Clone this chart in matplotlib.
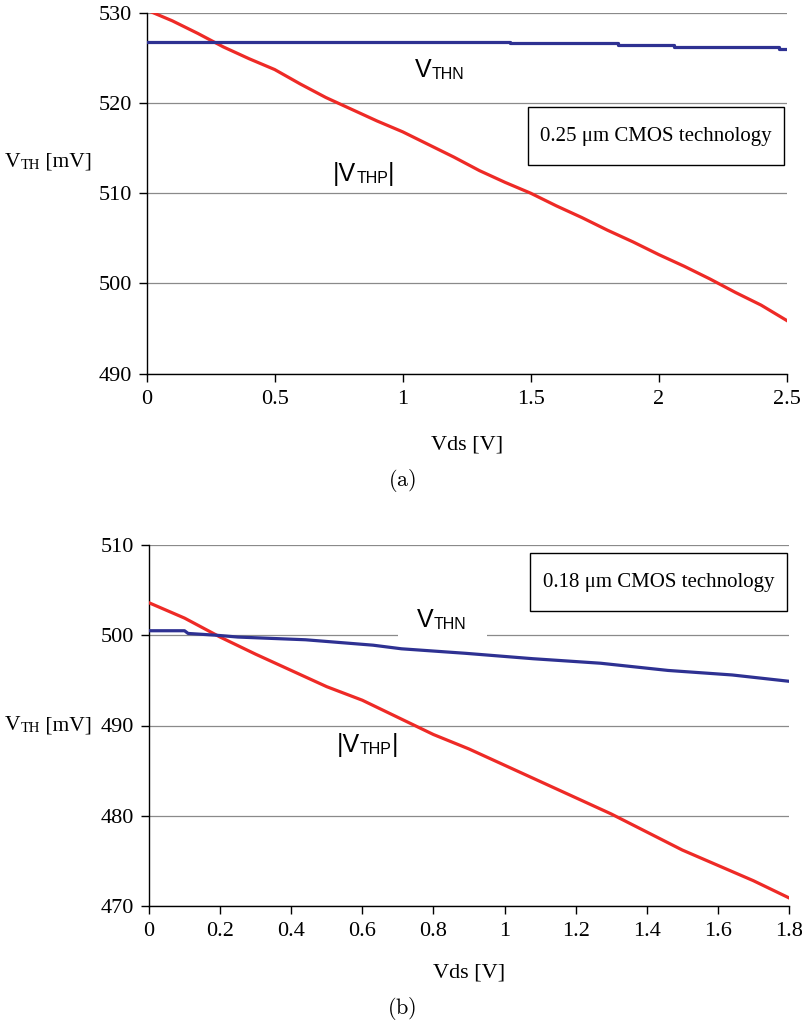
import matplotlib
matplotlib.use("Agg")
import matplotlib.pyplot as plt
import matplotlib.patches as patches

# ---- data ----
# (a) 0.25 um technology
vds_a = [0, 0.1, 0.2, 0.3, 0.4, 0.5, 0.6, 0.7, 0.8, 0.9, 1.0, 1.1, 1.2, 1.3,
         1.4, 1.5, 1.6, 1.7, 1.8, 1.9, 2.0, 2.1, 2.2, 2.3, 2.4, 2.5]
vthp_a = [530.3, 529.1, 527.7, 526.2, 524.9, 523.7, 522.1, 520.6, 519.3, 518.0,
          516.8, 515.4, 514.0, 512.5, 511.2, 510.0, 508.6, 507.3, 505.9, 504.6,
          503.2, 501.9, 500.5, 499.0, 497.6, 495.9]
vthn_a_x = [0, 0.92, 1.42, 1.84, 2.06, 2.47, 2.5]
vthn_a = [526.8, 526.7, 526.6, 526.4, 526.2, 526.0, 526.0]

# (b) 0.18 um technology
vds_b = [0, 0.1, 0.2, 0.3, 0.4, 0.5, 0.6, 0.7, 0.8, 0.9, 1.0, 1.1, 1.2, 1.3,
         1.4, 1.5, 1.6, 1.7, 1.8]
vthp_b = [503.6, 501.9, 499.8, 497.9, 496.1, 494.3, 492.8, 490.9, 489.0, 487.4,
          485.6, 483.8, 482.0, 480.2, 478.2, 476.2, 474.5, 472.8, 470.9]
vthn_b_x = [0, 0.1, 0.11, 0.19, 0.25, 0.44, 0.63, 0.71, 0.89, 1.08, 1.27,
            1.46, 1.64, 1.8]
vthn_b = [500.5, 500.5, 500.2, 500.0, 499.8, 499.5, 498.9, 498.5, 498.0,
          497.4, 496.9, 496.1, 495.6, 494.9]

xticks_a = [0, 0.5, 1, 1.5, 2, 2.5]
xticklabels_a = ['0', '0.5', '1', '1.5', '2', '2.5']
yticks_a = [490, 500, 510, 520, 530]
xticks_b = [0, 0.2, 0.4, 0.6, 0.8, 1.0, 1.2, 1.4, 1.6, 1.8]
xticklabels_b = ['0', '0.2', '0.4', '0.6', '0.8', '1', '1.2', '1.4', '1.6', '1.8']
yticks_b = [470, 480, 490, 500, 510]

RED = '#ee2a26'
BLUE = '#2e3192'
SERIF = 'Liberation Serif'
SANS = 'Liberation Sans'

W, H = 803, 1026
fig = plt.figure(figsize=(W / 100, H / 100), dpi=100)


def sub_text(ax, x, y, big, small, tail='', size=18, ssize=11.5, fam=SANS):
    # big letter + smaller subscript (+ optional tail), placed one after another
    t = ax.text(x, y, big, fontsize=size, family=fam, va='baseline', ha='left')
    pieces = [(small, ssize)]
    if tail:
        pieces.append((tail, size))
    prev = t
    for s, sz in pieces:
        prev = ax.annotate(s, xy=(1, 0), xycoords=prev, va='bottom', ha='left',
                           fontsize=sz, family=fam, annotation_clip=False)
    return t


def style_axes(ax, xlim, ylim, xticks, xticklabels, yticks):
    ax.set_xlim(*xlim)
    ax.set_ylim(*ylim)
    ax.set_xticks(xticks)
    ax.set_xticklabels(xticklabels)
    ax.set_yticks(yticks)
    for sp in ['top', 'right']:
        ax.spines[sp].set_visible(False)
    for sp in ['left', 'bottom']:
        ax.spines[sp].set_linewidth(1.0)
        ax.spines[sp].set_color('black')
    ax.tick_params(direction='out', length=5.5, width=1.0, labelsize=16)
    ax.tick_params(axis='x', pad=6)
    ax.tick_params(axis='y', pad=5)
    for lab in ax.get_xticklabels() + ax.get_yticklabels():
        lab.set_family(SERIF)
    ax.yaxis.grid(True, color='#8a8a8a', lw=0.9)
    ax.set_axisbelow('line')


# panel (a)
ax1 = fig.add_axes([146.7 / W, 1 - 373.7 / H, 640 / W, 361 / H])
ax1.plot(vds_a, vthp_a, color=RED, lw=2.3, zorder=3)
ax1.step(vthn_a_x, vthn_a, where='post', color=BLUE, lw=2.3, zorder=3)
style_axes(ax1, (0, 2.5), (490, 530), xticks_a, xticklabels_a, yticks_a)

sub_text(ax1, 1.048, 522.9, 'V', 'THN')
sub_text(ax1, 0.728, 511.3, '|V', 'THP', '|')
ax1.add_patch(patches.Rectangle((1.488, 513.1), 1.001, 6.4, fc='white',
                                ec='black', lw=1.0, zorder=4))
ax1.text(1.99, 516.3, '0.25 \u03bcm CMOS technology', family=SERIF, fontsize=15,
         ha='center', va='center', zorder=5)
ax1.text(0.5, (373.7 - 445) / 361, 'Vds [V]', transform=ax1.transAxes,
         family=SERIF, fontsize=16, ha='center', va='center')

# panel (b)
ax2 = fig.add_axes([149 / W, 1 - 906 / H, 640 / W, 361 / H])
ax2.plot(vds_b, vthp_b, color=RED, lw=2.3, zorder=3)
ax2.plot(vthn_b_x, vthn_b, color=BLUE, lw=2.3, zorder=3)
style_axes(ax2, (0, 1.8), (470, 510), xticks_b, xticklabels_b, yticks_b)

# white label background hides part of the 500 gridline
ax2.add_patch(patches.Rectangle((0.70, 499.65), 0.25, 3.2, fc='white',
                                ec='none', zorder=1.8))
sub_text(ax2, 0.753, 500.95, 'V', 'THN')
sub_text(ax2, 0.528, 487.1, '|V', 'THP', '|')
ax2.add_patch(patches.Rectangle((1.072, 502.7), 0.722, 6.4, fc='white',
                                ec='black', lw=1.0, zorder=4))
ax2.text(1.433, 505.9, '0.18 \u03bcm CMOS technology', family=SERIF, fontsize=15,
         ha='center', va='center', zorder=5)
ax2.text(0.5, (906 - 973) / 361, 'Vds [V]', transform=ax2.transAxes,
         family=SERIF, fontsize=16, ha='center', va='center')

# y labels  V_TH [mV]
for ypix in [167, 730]:
    t = fig.text(5 / W, 1 - ypix / H, 'V', family=SERIF, fontsize=15.5,
                 va='baseline', ha='left')
    t2 = ax1.annotate('TH', xy=(1, 0), xycoords=t, va='bottom',
                      ha='left', family=SERIF, fontsize=10.5,
                      annotation_clip=False)
    ax1.annotate(' [mV]', xy=(1, 0), xycoords=t2, va='bottom',
                 ha='left', family=SERIF, fontsize=15.5,
                 annotation_clip=False)

# sub-figure captions
fig.text(402 / W, 1 - 481 / H, r'$\mathrm{(a)}$', math_fontfamily='cm',
         fontsize=16, ha='center', va='center')
fig.text(402 / W, 1 - 1008 / H, r'$\mathrm{(b)}$', math_fontfamily='cm',
         fontsize=16, ha='center', va='center')

fig.savefig('out.png', dpi=100)
